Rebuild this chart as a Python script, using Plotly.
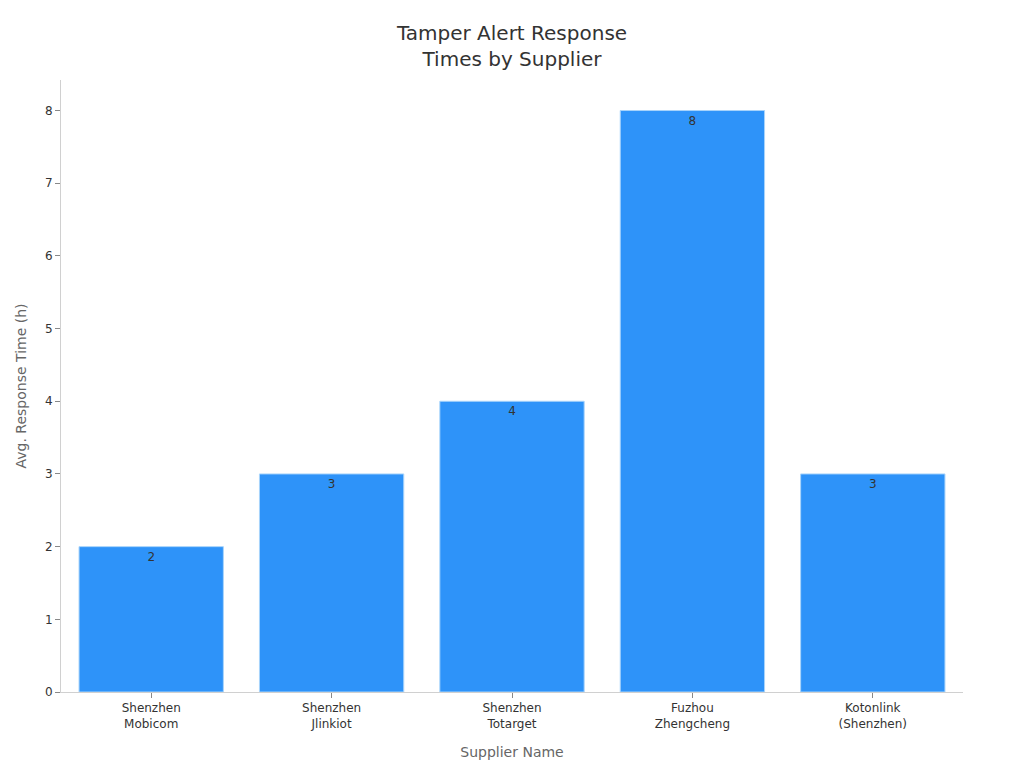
import plotly.graph_objects as go

# supplier response data
suppliers = [
    "Shenzhen<br>Mobicom",
    "Shenzhen<br>Jlinkiot",
    "Shenzhen<br>Totarget",
    "Fuzhou<br>Zhengcheng",
    "Kotonlink<br>(Shenzhen)",
]
response_hours = [2, 3, 4, 8, 3]

fig = go.Figure()
fig.add_trace(
    go.Bar(
        x=suppliers,
        y=response_hours,
        text=response_hours,
        textposition="inside",
        insidetextanchor="end",
        textfont=dict(color="#333333", size=12),
        marker=dict(color="#2e93f9", line=dict(color="#a8d4fb", width=1)),
    )
)

# page body adds an 8px offset, so the figure is sized to fit inside the window
fig.update_layout(
    title=dict(
        text="Tamper Alert Response<br>Times by Supplier",
        x=0.5,
        xanchor="center",
        y=0.958,
        font=dict(size=20, color="#333333"),
    ),
    font=dict(family="DejaVu Sans", size=12, color="#333333"),
    plot_bgcolor="white",
    paper_bgcolor="white",
    width=1008,
    height=752,
    margin=dict(l=51, r=53, t=72, b=68),
    bargap=0.2,
    showlegend=False,
)

fig.update_xaxes(
    title=dict(text="Supplier Name", font=dict(size=14, color="#666666"), standoff=18),
    automargin=False,
    showline=True,
    linecolor="#d0d0d0",
    linewidth=1,
    ticks="outside",
    tickcolor="#888888",
    ticklen=5,
    showgrid=False,
)
fig.update_yaxes(
    title=dict(text="Avg. Response Time (h)", font=dict(size=14, color="#666666")),
    range=[0, 8.42],
    dtick=1,
    showline=True,
    linecolor="#d0d0d0",
    linewidth=1,
    ticks="outside",
    tickcolor="#888888",
    ticklen=5,
    showgrid=False,
    zeroline=False,
)

fig.write_html("out.html")
